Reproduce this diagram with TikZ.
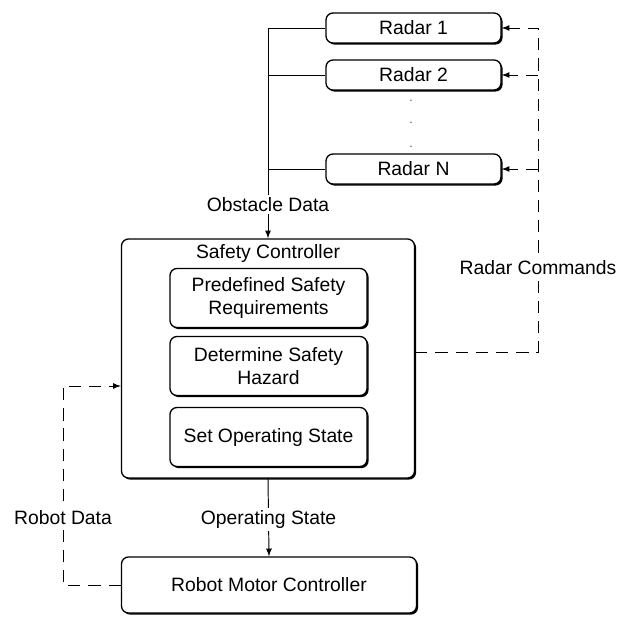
\documentclass[tikz,border=0pt]{standalone}
\usepackage{fontspec}
\setmainfont{Liberation Sans}
\usetikzlibrary{shapes.geometric, arrows, shadows}
\tikzstyle{box} = [rectangle, rounded corners=4pt, text centered, align=center, draw=black, line width=0.75pt, fill=white, drop shadow={shadow xshift=0.9pt, shadow yshift=-0.9pt, opacity=1, fill=black}]
\tikzstyle{radar} = [box, minimum width=3.5cm, minimum height=0.6cm]
\tikzstyle{task} = [box, minimum width=3.94cm, minimum height=1.18cm]
\tikzstyle{tag} = [fill=white, inner sep=1.5pt]
\tikzstyle{dots} = [font=\fontsize{7}{8}\selectfont, text=black!70, inner sep=0pt]
\tikzstyle{line} = [line width=0.55pt]
\tikzstyle{arrow} = [line, ->, >=latex]
\tikzstyle{dasharrow} = [arrow, dash pattern=on 7pt off 4.5pt]

\begin{document}
\begin{tikzpicture}[font=\fontsize{11}{13}\selectfont]
	\useasboundingbox (0,0) rectangle (12.36,-12.36);

		\node (radar1) [radar] at (8.27,-0.56) {Radar 1};
		\node (radar2) [radar] at (8.27,-1.5) {Radar 2};
		\node (dot1) [dots] at (8.22,-2.02) {.};
		\node (dot2) [dots] at (8.22,-2.46) {.};
		\node (dot3) [dots] at (8.22,-2.94) {.};
		\node (radarN) [radar] at (8.27,-3.38) {Radar N};

		\node (safety) [box, minimum width=5.86cm, minimum height=4.78cm] at (5.36,-7.17) {};
		\node (safety-title) at (5.36,-5.08) {Safety Controller};
		\node (requirements) [task] at (5.37,-5.96) {Predefined Safety\\Requirements};
		\node (hazard) [task] at (5.37,-7.32) {Determine Safety\\Hazard};
		\node (set-state) [task] at (5.37,-8.74) {Set Operating State};

		\node (motor) [box, minimum width=5.9cm, minimum height=1.12cm] at (5.38,-11.7) {Robot Motor Controller};

		\coordinate (cmd) at (10.76,-7.04);
		\coordinate (robot-data) at (1.26,-7.72);

		\draw[arrow] (radar1.west) -| node[pos=0.92, tag] {Obstacle Data} (safety.north);
		\draw[line] (radar2.west) -- (radar2.west -| safety.north);
		\draw[line] (radarN.west) -- (radarN.west -| safety.north);

		\draw[dasharrow] (safety.east |- cmd) -- (cmd) |- node[pos=0.13, tag] {Radar Commands} (radar1.east);
		\draw[dasharrow] (cmd |- radar2.east) -- (radar2.east);
		\draw[dasharrow] (cmd |- radarN.east) -- (radarN.east);

		\draw[arrow] (safety.south) -- node[pos=0.53, tag] {Operating State} (motor.north);
		\draw[dasharrow] (motor.west) -| node[pos=0.67, tag] {Robot Data} (robot-data) -- (safety.west |- robot-data);
	\end{tikzpicture}
\end{document}
